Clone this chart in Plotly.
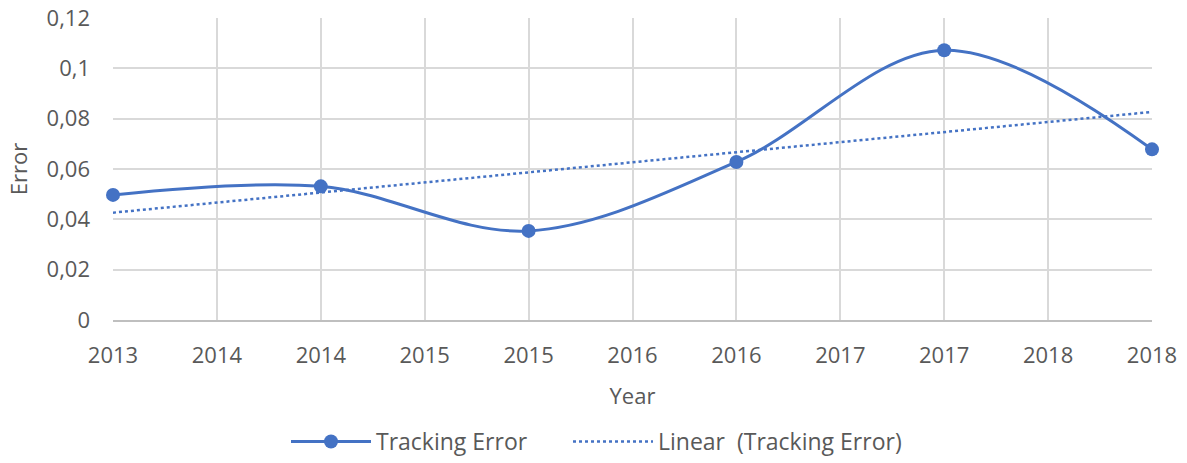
import numpy as np
import plotly.graph_objects as go

tick_labels = ["2013", "2014", "2014", "2015", "2015", "2016", "2016", "2017", "2017", "2018", "2018"]
point_positions = [0, 2, 4, 6, 8, 10]
tracking_error = [0.0497, 0.0531, 0.0354, 0.0628, 0.1072, 0.0678]
y_ticks = [0, 0.02, 0.04, 0.06, 0.08, 0.1, 0.12]
y_tick_labels = ["0", "0,02", "0,04", "0,06", "0,08", "0,1", "0,12"]

# Linear trend (least squares over point index)
idx = np.arange(len(tracking_error))
slope, intercept = np.polyfit(idx, tracking_error, 1)
trend_x = [point_positions[0], point_positions[-1]]
trend_y = [intercept, intercept + slope * idx[-1]]

blue = "#4472C4"
grey_text = "#595959"
font_family = "Open Sans, Noto Sans, sans-serif"
W, H = 1187, 463

fig = go.Figure()
fig.add_trace(go.Scatter(
    x=point_positions, y=tracking_error, name="Tracking Error",
    mode="lines+markers", line=dict(color=blue, width=3, shape="spline", smoothing=1.0),
    marker=dict(color=blue, size=14), cliponaxis=False, legend="legend",
))
fig.add_trace(go.Scatter(
    x=trend_x, y=trend_y, name="Linear  (Tracking Error)",
    mode="lines", line=dict(color=blue, width=2.5, dash="dot"), cliponaxis=False,
    legend="legend2",
))

legend_common = dict(orientation="h", xref="container", xanchor="left",
                     yref="container", y=0.0, yanchor="bottom",
                     font=dict(size=23, color=grey_text), itemwidth=80,
                     bgcolor="rgba(0,0,0,0)")

fig.update_layout(
    width=W, height=H,
    margin=dict(l=113, r=35, t=18, b=143, autoexpand=False),
    paper_bgcolor="white", plot_bgcolor="white",
    font=dict(family=font_family, size=22, color=grey_text),
    showlegend=True,
    legend=dict(x=286 / W, **legend_common),
    legend2=dict(x=568 / W, **legend_common),
    xaxis=dict(
        range=[0, 10], tickmode="array", tickvals=list(range(len(tick_labels))),
        ticktext=tick_labels, showgrid=True, gridcolor="#d9d9d9", gridwidth=1.5,
        showline=True, linecolor="#bfbfbf", linewidth=1.5, zeroline=False,
        ticks="", ticklabelstandoff=15, automargin=False, ticklabeloverflow="allow",
        title=dict(text="Year", font=dict(size=22, color=grey_text), standoff=20),
    ),
    yaxis=dict(
        range=[0, 0.12], tickmode="array", tickvals=y_ticks, ticktext=y_tick_labels,
        showgrid=True, gridcolor="#d9d9d9", gridwidth=1.5, zeroline=False,
        showline=False, ticks="", ticklabelstandoff=22, automargin=False,
        ticklabeloverflow="allow",
        title=dict(text="Error", font=dict(size=22, color=grey_text), standoff=12),
    ),
)

# remove the browser's default 8px body margin so the figure fills the window
fig.write_html("out.html", config={"displayModeBar": False},
               post_script="document.body.style.margin='0';")
